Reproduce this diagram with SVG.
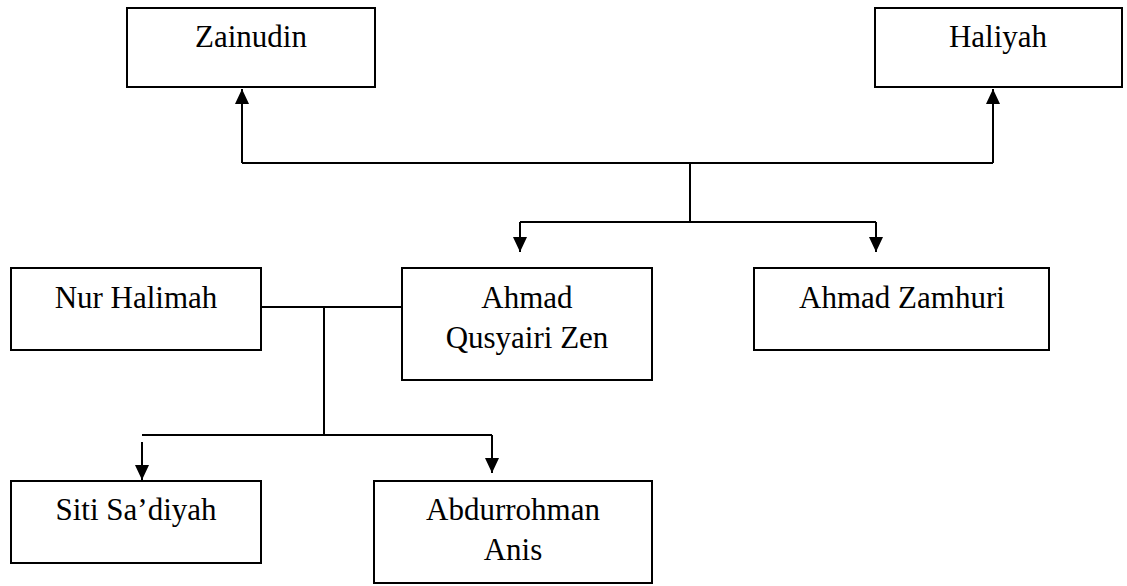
<svg xmlns="http://www.w3.org/2000/svg" width="1127" height="586" viewBox="0 0 1127 586">
<style>
.box{fill:#fff;stroke:#000;stroke-width:2}
.lbl{font-family:"Liberation Serif","Times New Roman",serif;font-size:31px;fill:#000;text-anchor:middle}
.ln{fill:none;stroke:#000;stroke-width:2}
.arr{fill:none;stroke:#000;stroke-width:2;marker-end:url(#ah)}
</style>
<defs>
<marker id="ah" markerUnits="userSpaceOnUse" markerWidth="15" markerHeight="14" refX="15" refY="7" orient="auto">
<path d="M0,0 L15,7 L0,14 z" fill="#000"/>
</marker>
</defs>
<rect width="1127" height="586" fill="#fff"/>
<g id="connectors">
<polyline class="ln" points="242,163 993,163"/>
<line class="arr" x1="242" y1="163" x2="242" y2="89"/>
<line class="arr" x1="993" y1="163" x2="993" y2="89"/>
<polyline class="ln" points="690,163 690,222"/>
<polyline class="ln" points="520,222 876,222"/>
<line class="arr" x1="520" y1="222" x2="520" y2="252"/>
<line class="arr" x1="876" y1="222" x2="876" y2="252"/>
<polyline class="ln" points="261,307 402,307"/>
<polyline class="ln" points="324,307 324,435"/>
<polyline class="ln" points="142,435 492,435"/>
<line class="arr" x1="142" y1="442" x2="142" y2="480"/>
<line class="arr" x1="492" y1="435" x2="492" y2="473"/>
</g>
<g id="zainudin">
<rect class="box" x="127" y="8" width="248" height="79"/>
<text class="lbl" x="251" y="47">Zainudin</text>
</g>
<g id="haliyah">
<rect class="box" x="875" y="8" width="247" height="79"/>
<text class="lbl" x="998" y="47">Haliyah</text>
</g>
<g id="nur-halimah">
<rect class="box" x="11" y="268" width="250" height="82"/>
<text class="lbl" x="136" y="308">Nur Halimah</text>
</g>
<g id="ahmad-qusyairi-zen">
<rect class="box" x="402" y="268" width="250" height="112"/>
<text class="lbl" x="527" y="308">Ahmad</text>
<text class="lbl" x="527" y="348">Qusyairi Zen</text>
</g>
<g id="ahmad-zamhuri">
<rect class="box" x="754" y="268" width="295" height="82"/>
<text class="lbl" x="902" y="308">Ahmad Zamhuri</text>
</g>
<g id="siti-sadiyah">
<rect class="box" x="11" y="481" width="250" height="82"/>
<text class="lbl" x="136" y="520">Siti Sa’diyah</text>
</g>
<g id="abdurrohman-anis">
<rect class="box" x="374" y="481" width="278" height="102"/>
<text class="lbl" x="513" y="520">Abdurrohman</text>
<text class="lbl" x="513" y="560">Anis</text>
</g>
</svg>
